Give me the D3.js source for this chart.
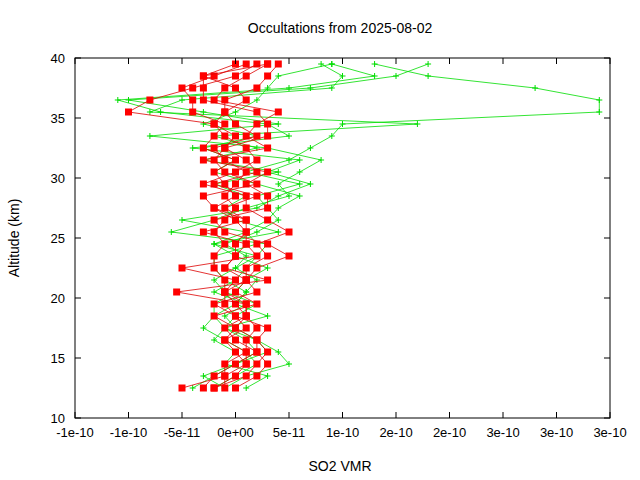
<!DOCTYPE html>
<html><head><meta charset="utf-8">
<script src="https://cdn.jsdelivr.net/npm/d3@7"></script>
<style>body{margin:0;background:#fff}text{font-family:"Liberation Sans",Arial,sans-serif}</style>
</head><body><svg id="c" width="640" height="480"></svg>
<script>
const altitudes = d3.range(28).map(i => 12.5 + i);
const xTickValues = d3.range(11).map(i => -1.5e-10 + i * 5e-11);
const xTickLabels = ["-1e-10","-1e-10","-5e-11","0e+00","5e-11","1e-10","2e-10","2e-10","3e-10","3e-10","3e-10"];
const yTickValues = [10,15,20,25,30,35,40];
// values in units of 1e-11
const redProfiles = [
 [-5,-1,-1,1,1,2,1,0,-1,1,-1,0,0,1,1,-2,0,-1,-2,0,-3,-2,-1,-4,-4,-5,-2,1],
 [-2,1,2,3,2,3,0,-1,-1,0,-5,2,1,-3,1,-1,2,-2,2,1,-1,0,-2,-10,-8,-4,0,2],
 [-3,-2,0,2,2,0,-2,2,0,1,2,5,3,-1,-2,3,3,1,3,-3,3,1,2,4,-2,-1,1,3],
 [0,2,3,2,0,-1,1,1,-5.5,3,-1,0,1,1,0,-2,-3,2,-1,-2,-1,3,3,2,-3,-3,-3,0],
 [-2,0,1,1,-1,1,0,-2,2,1,1,3,2,5,3,1,1,-3,0,2,1,-1,-2,-1,-1,2,3,4],
 [-1,-1,1,0,-1,0,1,1,-1,-1,-2,-2,-1,-2,-1,0,-1,0,1,-1,-2,2,0,-1,1,0,-3,3]
];
const greenProfiles = [
 [-4,-2,0,3,2,0,-1,1,-2,0,1,2,3,-6,-2,1,5,4,6,8,3,-8,4,-3,-10,7,15,18],
 [-1,1,5,4,2,-1,-2,0,1,2,0,1,-1,2,4,3,2,6,1,5,7,9,10,34,34,28,18,13],
 [-2,0,2,1,-1,-3,-2,-2,0,1,3,0,-2,1,-5,2,4,7,3,6,-4,5,3,-7,-11,5,13,9],
 [1,3,-1,0,-2,-1,0,2,-1,-2,0,2,-2,4,0,-1,1,-2,4,-3,2,-2,17,-8,-5,9,10,8],
 [-1,-3,0,2,1,-1,3,0,1,-1,-2,-2,2,1,3,4,6,2,-2,0,-3,2,-3,0,2,3,4,9]
];
const svg = d3.select("#c");
const L=75,R=610,T=58,B=418;
const x = d3.scaleLinear().domain([-1.5e-10,3.5e-10]).range([L,R]);
const y = d3.scaleLinear().domain([10,40]).range([B,T]);
const line = d3.line().x(d=>x(d[0]*1e-11)).y(d=>y(d[1]));
greenProfiles.forEach(p=>{
  const pts=p.map((v,i)=>[v,altitudes[i]]);
  svg.append("path").attr("d",line(pts)).attr("fill","none").attr("stroke","#00dd00").attr("stroke-width",0.8);
  svg.append("g").selectAll("path").data(pts).join("path")
    .attr("d",d=>`M${x(d[0]*1e-11)-3},${y(d[1])}h6M${x(d[0]*1e-11)},${y(d[1])-3}v6`)
    .attr("stroke","#00dd00").attr("stroke-width",1);
});
redProfiles.forEach(p=>{
  const pts=p.map((v,i)=>[v,altitudes[i]]);
  svg.append("path").attr("d",line(pts)).attr("fill","none").attr("stroke","#dd0000").attr("stroke-width",0.8);
  svg.append("g").selectAll("rect").data(pts).join("rect")
    .attr("x",d=>x(d[0]*1e-11)-3.5).attr("y",d=>y(d[1])-3.5).attr("width",7).attr("height",7).attr("fill","#ff0000");
});
svg.append("rect").attr("x",L).attr("y",T).attr("width",R-L).attr("height",B-T).attr("fill","none").attr("stroke","#000");
const ax=svg.append("g").attr("font-size",13);
xTickValues.forEach((v,i)=>{
  ax.append("line").attr("x1",x(v)).attr("x2",x(v)).attr("y1",B).attr("y2",B-6).attr("stroke","#000");
  ax.append("line").attr("x1",x(v)).attr("x2",x(v)).attr("y1",T).attr("y2",T+6).attr("stroke","#000");
  ax.append("text").attr("x",x(v)).attr("y",B+19).attr("text-anchor","middle").text(xTickLabels[i]);
});
yTickValues.forEach(v=>{
  ax.append("line").attr("x1",L).attr("x2",L+6).attr("y1",y(v)).attr("y2",y(v)).attr("stroke","#000");
  ax.append("line").attr("x1",R).attr("x2",R-6).attr("y1",y(v)).attr("y2",y(v)).attr("stroke","#000");
  ax.append("text").attr("x",L-10).attr("y",y(v)+5).attr("text-anchor","end").text(v);
});
svg.append("text").attr("x",340).attr("y",33).attr("text-anchor","middle").attr("font-size",14).text("Occultations from 2025-08-02");
svg.append("text").attr("x",340).attr("y",471).attr("text-anchor","middle").attr("font-size",14).text("SO2 VMR");
svg.append("text").attr("transform","translate(19,238) rotate(-90)").attr("text-anchor","middle").attr("font-size",14).text("Altitude (km)");
</script></body></html>
